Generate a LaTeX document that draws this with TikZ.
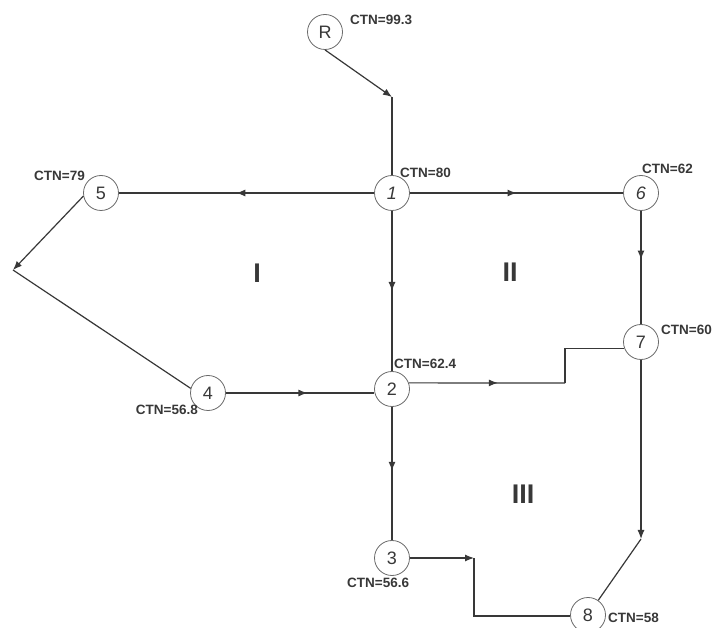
\documentclass[tikz,border=0pt]{standalone}
\usepackage{fontspec}
\setmainfont{Liberation Sans}
\usetikzlibrary{arrows.meta,decorations.markings,calc}
\definecolor{ln}{HTML}{383838}
\definecolor{cir}{HTML}{6A6A6A}
\begin{document}
\begin{tikzpicture}[x=1pt,y=-1pt,
  vtx/.style={circle,draw=cir,line width=0.8pt,fill=white,minimum size=35pt,inner sep=0pt,font=\fontsize{18}{18}\selectfont,text=ln},
  ctn/.style={font=\bfseries\fontsize{13.5}{13.5}\selectfont,text=ln,inner sep=0pt},
  reg/.style={font=\bfseries\fontsize{27}{27}\selectfont,text=ln,inner sep=0pt},
  edge/.style={draw=ln,line width=1.2pt},
  tipend/.style={-{Latex[length=9pt,width=7pt]}},
  midarr/.style={postaction={decorate},decoration={markings,mark=at position #1 with {\arrow{Latex[length=9pt,width=7pt]}}}}
]
\useasboundingbox[fill=white] (0,0) rectangle (713,628);

% nodes
\node[vtx] (R) at (325,32) {R};
\node[vtx] (n1) at (392,193) {\itshape 1};
\node[vtx] (n5) at (101,193) {5};
\node[vtx] (n6) at (641,193) {\itshape 6};
\node[vtx] (n2) at (392,389) {2};
\node[vtx] (n4) at (208,393) {4};
\node[vtx] (n7) at (641,342) {7};
\node[vtx] (n3) at (392,558) {3};
\node[vtx] (n8) at (588,615) {8};

% junction coordinates
\coordinate (j0) at (392,97);
\coordinate (j2) at (13,270);
\coordinate (k1) at (565,383);
\coordinate (j7) at (641,539);
\coordinate (k2) at (474,558);

% connectors
\draw[edge,tipend] (R.south) -- (j0);
\draw[edge] (j0) -- (n1);
\draw[edge,midarr=0.54] (n1) -- (n5);
\draw[edge,midarr=0.5] (n1) -- (n6);
\draw[edge,midarr=0.5] (n1) -- (n2);
\draw[edge,tipend] (n5.190) -- (j2);
\draw[edge] (j2) -- (n4.165);
\draw[edge,midarr=0.55] (n4) -- (n4 -| n2.west);
\draw[edge,midarr=0.57] (n2.20) -- (k1);
\draw[edge] (k1) |- (n7.200);
\draw[edge,midarr=0.43] (n6) -- (n7);
\draw[edge,midarr=0.48] (n2) -- (n3);
\draw[edge,tipend] (n7) -- (j7);
\draw[edge] (j7) -- (n8);
\draw[edge,tipend] (n3) -- (k2);
\draw[edge] (k2) |- (n8.183);

% labels
\node[ctn,anchor=west] (l99) at (350,20) {CTN=99.3};
\node[ctn,anchor=west] (l80) at (400,173) {CTN=80};
\node[ctn,anchor=east] (l79) at (85,176) {CTN=79};
\node[ctn,anchor=west] (l62) at (642,169) {CTN=62};
\node[ctn,anchor=west] (l624) at (394,364) {CTN=62.4};
\node[ctn,anchor=east] (l568) at (198,410) {CTN=56.8};
\node[ctn,anchor=east] (l60) at (712,330) {CTN=60};
\node[ctn,anchor=west] (l566) at (347,583) {CTN=56.6};
\node[ctn,anchor=west] (l58) at (608,618) {CTN=58};

\node[reg] (rI) at (257,273) {I};
\node[reg] (rII) at (510,272) {II};
\node[reg] (rIII) at (523,494) {III};
\end{tikzpicture}
\end{document}
